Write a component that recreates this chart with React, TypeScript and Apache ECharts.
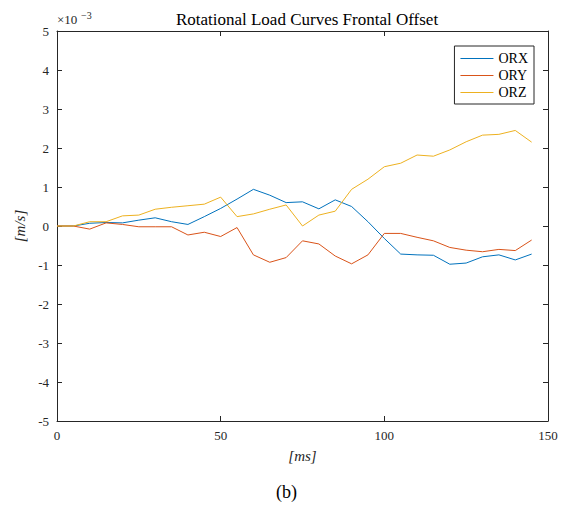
import React, { useEffect, useRef } from "react";
import * as echarts from "echarts";

const timeMs = [0, 5, 10, 15, 20, 25, 30, 35, 40, 45, 50, 55, 60, 65, 70, 75, 80, 85, 90, 95, 100, 105, 110, 115, 120, 125, 130, 135, 140, 145];
// values in units of 1e-3 m/s
const orx = [0, 0, 0.07, 0.09, 0.08, 0.15, 0.21, 0.11, 0.04, 0.24, 0.45, 0.69, 0.94, 0.79, 0.6, 0.62, 0.44, 0.67, 0.5, 0.11, -0.32, -0.72, -0.74, -0.75, -0.98, -0.95, -0.79, -0.74, -0.87, -0.72];
const ory = [0, 0, -0.08, 0.08, 0.04, -0.02, -0.02, -0.02, -0.23, -0.16, -0.27, -0.04, -0.74, -0.93, -0.81, -0.38, -0.46, -0.77, -0.97, -0.74, -0.19, -0.19, -0.29, -0.38, -0.55, -0.62, -0.66, -0.6, -0.63, -0.36];
const orz = [0, 0, 0.11, 0.11, 0.26, 0.28, 0.43, 0.48, 0.52, 0.56, 0.74, 0.24, 0.31, 0.43, 0.54, 0.0, 0.28, 0.38, 0.94, 1.2, 1.52, 1.61, 1.82, 1.79, 1.95, 2.16, 2.33, 2.35, 2.45, 2.15];
const seriesNames = ["ORX", "ORY", "ORZ"];
const seriesColors = ["#0072BD", "#D95319", "#EDB120"];

const FONT = "Liberation Serif";
const FONT_CSS = "'Liberation Serif', serif";
const AXIS_COLOR = "#262626";

export default function App() {
  const ref = useRef<HTMLDivElement>(null);
  useEffect(() => {
    if (!ref.current) return;
    const chart = echarts.init(ref.current, undefined, { renderer: "svg" });
    const pair = (ys: number[]) => timeMs.map((t, i) => [t, ys[i]]);
    const allData = [orx, ory, orz];
    const axisCommon = {
      axisLine: { show: true, onZero: false, lineStyle: { color: AXIS_COLOR, width: 1 } },
      axisTick: { show: true, inside: true, length: 5, lineStyle: { color: AXIS_COLOR, width: 1 } },
      splitLine: { show: false },
    };
    const labelStyle = {
      color: "#262626",
      fontFamily: FONT,
      fontSize: 13,
      fontStyle: "normal",
      fontWeight: "normal",
      margin: 8,
    };
    chart.setOption({
      animation: false,
      backgroundColor: "#ffffff",
      textStyle: { fontFamily: FONT },
      title: {
        text: "Rotational Load Curves Frontal Offset",
        left: 302,
        textAlign: "center",
        top: 6,
        textStyle: { fontFamily: FONT, fontSize: 17, fontWeight: "normal", color: "#000" },
      },
      grid: { left: 57, right: 21, top: 31, bottom: 93, containLabel: false },
      legend: {
        data: seriesNames,
        orient: "vertical",
        right: 35,
        top: 46,
        padding: [5, 6, 4, 6],
        itemGap: 2,
        itemWidth: 33,
        itemHeight: 1,
        icon: "rect",
        borderColor: AXIS_COLOR,
        borderWidth: 1,
        borderRadius: 0,
        backgroundColor: "#fff",
        textStyle: { fontFamily: FONT, fontSize: 14, color: "#000", lineHeight: 15 },
      },
      xAxis: [
        {
          type: "value",
          min: 0,
          max: 150,
          interval: 50,
          position: "bottom",
          ...axisCommon,
          axisLabel: labelStyle,
          name: "[ms]",
          nameLocation: "middle",
          nameGap: 27,
          nameTextStyle: { fontFamily: FONT, fontSize: 15, fontStyle: "italic", fontWeight: "normal", color: "#262626" },
        },
        {
          type: "value",
          min: 0,
          max: 150,
          interval: 50,
          position: "top",
          ...axisCommon,
          axisLabel: { show: false },
        },
      ],
      yAxis: [
        {
          type: "value",
          min: -5,
          max: 5,
          interval: 1,
          position: "left",
          ...axisCommon,
          axisLabel: labelStyle,
          name: "[m/s]",
          nameLocation: "middle",
          nameGap: 28,
          nameTextStyle: { fontFamily: FONT, fontSize: 15, fontStyle: "italic", fontWeight: "normal", color: "#262626" },
        },
        {
          type: "value",
          min: -5,
          max: 5,
          interval: 1,
          position: "right",
          ...axisCommon,
          axisLabel: { show: false },
        },
      ],
      graphic: [
        {
          type: "text",
          left: 57,
          top: 13,
          style: { text: "×10", fontFamily: FONT, fontSize: 13, fill: "#262626", font: `13px ${FONT_CSS}` },
        },
        {
          type: "text",
          left: 81,
          top: 10,
          style: { text: "−3", fontFamily: FONT, fontSize: 10, fill: "#262626", font: `10px ${FONT_CSS}` },
        },
        {
          type: "text",
          left: 276,
          top: 483,
          style: { text: "(b)", fontFamily: FONT, fontSize: 18, fill: "#000", font: `18px ${FONT_CSS}` },
        },
      ],
      series: seriesNames.map((name, i) => ({
        name,
        type: "line",
        data: pair(allData[i]),
        xAxisIndex: 0,
        yAxisIndex: 0,
        showSymbol: false,
        symbol: "none",
        lineStyle: { color: seriesColors[i], width: 1 },
        itemStyle: { color: seriesColors[i] },
      })),
    });
    return () => chart.dispose();
  }, []);
  return (
    <div
      ref={ref}
      style={{ position: "fixed", left: 0, top: 0, width: 569, height: 514 }}
    />
  );
}
